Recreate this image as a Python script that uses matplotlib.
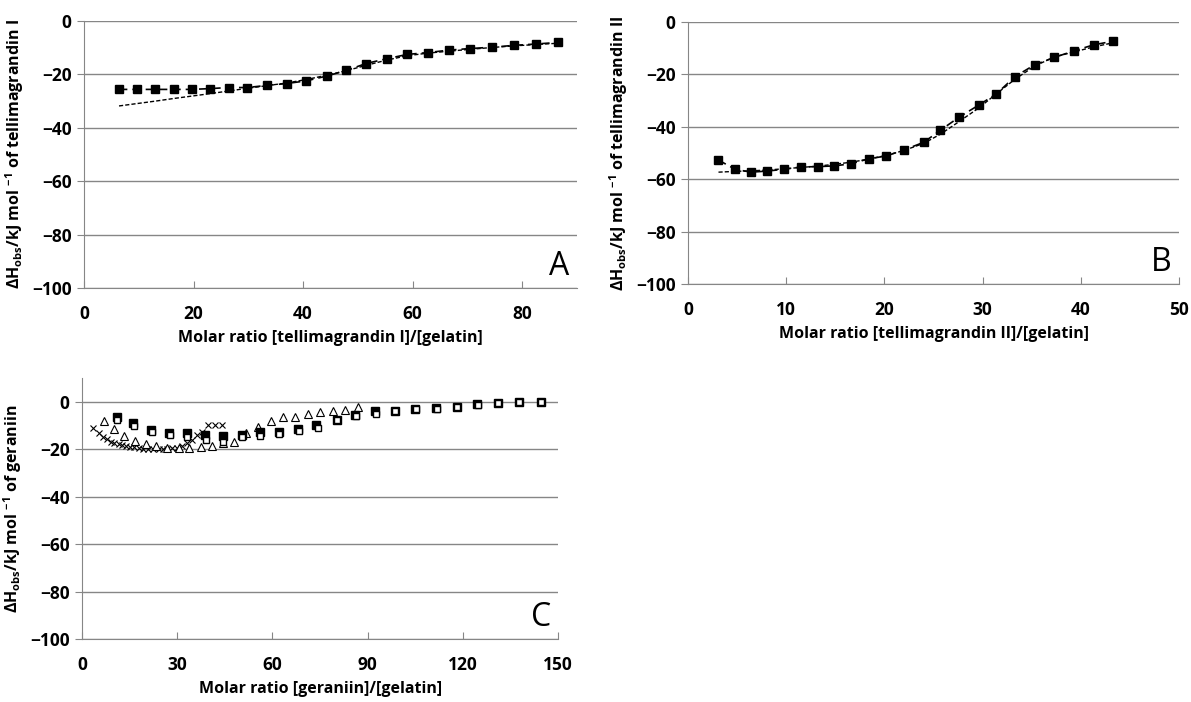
import matplotlib
matplotlib.use("Agg")
import matplotlib.pyplot as plt

plt.rcParams['font.family'] = ['Open Sans', 'DejaVu Sans']
plt.rcParams['font.weight'] = 'bold'
plt.rcParams['axes.labelweight'] = 'bold'
plt.rcParams['mathtext.fontset'] = 'custom'
plt.rcParams['mathtext.rm'] = 'Open Sans:bold'
plt.rcParams['mathtext.bf'] = 'Open Sans:bold'

# panel A - tellimagrandin I
a_x = [6.4, 9.7, 13.0, 16.4, 19.7, 23.0, 26.4, 29.8, 33.4, 37.0, 40.6, 44.3,
       47.9, 51.5, 55.3, 59.0, 62.8, 66.6, 70.4, 74.5, 78.5, 82.5, 86.6]
a_obs = [-25.6, -25.6, -25.6, -25.6, -25.6, -25.3, -24.9, -24.9, -24.1, -23.4, -22.4, -20.6,
         -18.5, -15.9, -14.1, -12.5, -11.8, -10.9, -10.3, -9.8, -9.1, -8.6, -8.0]
a_fit = [-31.8, -30.9, -30.0, -29.0, -28.1, -27.2, -26.2, -25.2, -24.2, -23.2, -21.9, -20.3,
         -18.6, -16.6, -14.6, -13.0, -12.0, -11.3, -10.6, -9.9, -9.3, -8.8, -8.3]

# panel B - tellimagrandin II
b_x = [3.1, 4.8, 6.4, 8.0, 9.8, 11.5, 13.2, 14.9, 16.6, 18.4, 20.2, 22.0,
       24.0, 25.7, 27.6, 29.6, 31.4, 33.3, 35.3, 37.3, 39.3, 41.3, 43.3]
b_obs = [-52.7, -56.2, -57.3, -56.9, -56.2, -55.3, -55.2, -54.9, -54.1, -52.2, -51.1, -48.8,
         -45.9, -41.3, -36.3, -31.7, -27.4, -20.8, -16.3, -13.5, -11.0, -8.7, -7.3]
b_fit = [-57.3, -57.0, -56.8, -56.5, -56.0, -55.5, -55.0, -54.3, -53.5, -52.3, -50.9, -49.0,
         -46.3, -42.8, -38.0, -32.8, -27.4, -21.8, -16.8, -13.3, -11.4, -9.5, -7.9]

# panel C - geraniin, four runs
c_cross_x = [3.4, 5.2, 6.5, 7.8, 9.0, 10.2, 11.5, 12.5, 13.8, 15.1, 16.4, 17.8, 19.3, 20.9,
             22.5, 24.1, 25.6, 26.9, 28.3, 29.8, 31.4, 33.0, 34.6, 36.1, 37.7, 39.6, 41.8, 44.1]
c_cross_y = [-11.2, -13.3, -14.7, -15.8, -16.8, -17.2, -17.8, -18.4, -18.6, -18.9, -19.2, -19.6,
             -19.9, -20.1, -20.1, -20.1, -20.1, -19.9, -19.6, -19.4, -18.8, -17.5, -16.1, -14.0,
             -12.6, -9.7, -9.7, -9.7]
c_tri_x = [6.9, 10.2, 13.3, 16.7, 20.1, 23.3, 26.9, 30.4, 33.8, 37.5, 41.1, 44.5, 48.0,
           51.8, 55.5, 59.6, 63.2, 67.1, 71.1, 75.0, 79.2, 83.0, 86.9]
c_tri_y = [-8.3, -11.6, -14.4, -16.5, -17.8, -18.6, -19.4, -19.6, -19.6, -19.2, -18.6, -17.5,
           -16.8, -13.2, -10.5, -8.3, -6.5, -6.5, -5.1, -4.4, -3.8, -3.4, -2.4]
c_sqf_x = [11.1, 16.2, 21.7, 27.5, 33.0, 38.8, 44.3, 50.3, 56.1, 61.9, 67.9, 73.7,
           80.3, 86.0, 92.3, 98.6, 105.0, 111.6, 118.1, 124.6, 131.2, 137.8, 144.7]
c_sqf_y = [-6.5, -9.0, -11.9, -13.0, -13.3, -14.0, -14.4, -14.0, -12.9, -12.6, -11.6, -9.7,
           -7.6, -5.5, -4.1, -3.7, -3.0, -2.7, -2.0, -1.0, -0.6, -0.3, -0.3]
c_sqo_x = [11.1, 16.5, 22.0, 27.7, 33.2, 39.0, 44.5, 50.5, 56.1, 62.1, 68.2, 74.2,
           80.3, 86.4, 92.6, 98.6, 105.2, 111.8, 118.1, 124.7, 131.2, 137.8, 144.7]
c_sqo_y = [-7.9, -10.2, -12.6, -14.0, -15.0, -16.1, -16.8, -15.0, -14.4, -13.6, -12.3, -11.2,
           -7.6, -6.2, -5.2, -4.1, -3.1, -3.0, -2.0, -1.3, -0.6, -0.3, -0.3]

grey = '#868686'


def style(ax, xmax, xstep, ytop, letter):
    ax.set_xlim(0, xmax)
    ax.set_ylim(-100, ytop)
    ax.set_xticks(range(0, xmax + 1, xstep))
    ax.set_yticks(range(-100, 1, 20))
    ax.grid(axis='y', color=grey, lw=1)
    ax.set_axisbelow(True)
    for s in ['top', 'right']:
        ax.spines[s].set_visible(False)
    for s in ['left', 'bottom']:
        ax.spines[s].set_color(grey)
    ax.tick_params(axis='x', direction='in', length=5, color=grey, labelsize=12.5, pad=12)
    ax.tick_params(axis='y', direction='out', length=5, color=grey, labelsize=12.5, pad=4)
    ax.text(0.985, 0.02, letter, transform=ax.transAxes, ha='right', va='bottom',
            fontsize=23, fontweight='normal')


fig = plt.figure(figsize=(11.91, 7.02), dpi=100)

axA = fig.add_axes([0.0705, 0.5897, 0.4139, 0.3803])
axA.plot(a_x, a_fit, color='black', lw=1, ls=(0, (3, 1.5)))
axA.plot(a_x, a_obs, color='black', lw=1.2, ls=(0, (5, 3)), marker='s', ms=5.5)
style(axA, 90, 20, 0, 'A')
axA.set_xlabel('Molar ratio [tellimagrandin I]/[gelatin]', fontsize=11.5, labelpad=5)
axA.set_ylabel(r'ΔH$_{\mathbf{obs}}$/kJ mol $^{\mathbf{-1}}$ of tellimagrandin I',
               fontsize=11.5, labelpad=4)

axB = fig.add_axes([0.5777, 0.5954, 0.4123, 0.3732])
axB.plot(b_x, b_fit, color='black', lw=1, ls=(0, (3, 1.5)))
axB.plot(b_x, b_obs, color='black', lw=1.2, ls=(0, (5, 3)), marker='s', ms=5.5)
style(axB, 50, 10, 0, 'B')
axB.set_xlabel('Molar ratio [tellimagrandin II]/[gelatin]', fontsize=11.5, labelpad=5)
axB.set_ylabel(r'ΔH$_{\mathbf{obs}}$/kJ mol $^{\mathbf{-1}}$ of tellimagrandin II',
               fontsize=11.5, labelpad=4)

axC = fig.add_axes([0.0689, 0.0897, 0.3997, 0.3718])
axC.plot(c_cross_x, c_cross_y, ls='none', marker='x', ms=4.5, mew=0.8, color='black')
axC.plot(c_tri_x, c_tri_y, ls='none', marker='^', ms=5.5, mew=0.8, mfc='white', mec='black')
axC.plot(c_sqf_x, c_sqf_y, ls='none', marker='s', ms=5.5, color='black')
axC.plot(c_sqo_x, c_sqo_y, ls='none', marker='s', ms=4, mew=1, mfc='white', mec='black')
style(axC, 150, 30, 10, 'C')
axC.set_xlabel('Molar ratio [geraniin]/[gelatin]', fontsize=11.5, labelpad=5)
axC.set_ylabel(r'ΔH$_{\mathbf{obs}}$/kJ mol $^{\mathbf{-1}}$ of geraniin',
               fontsize=11.5, labelpad=4)

fig.savefig('out.png', dpi=100)
